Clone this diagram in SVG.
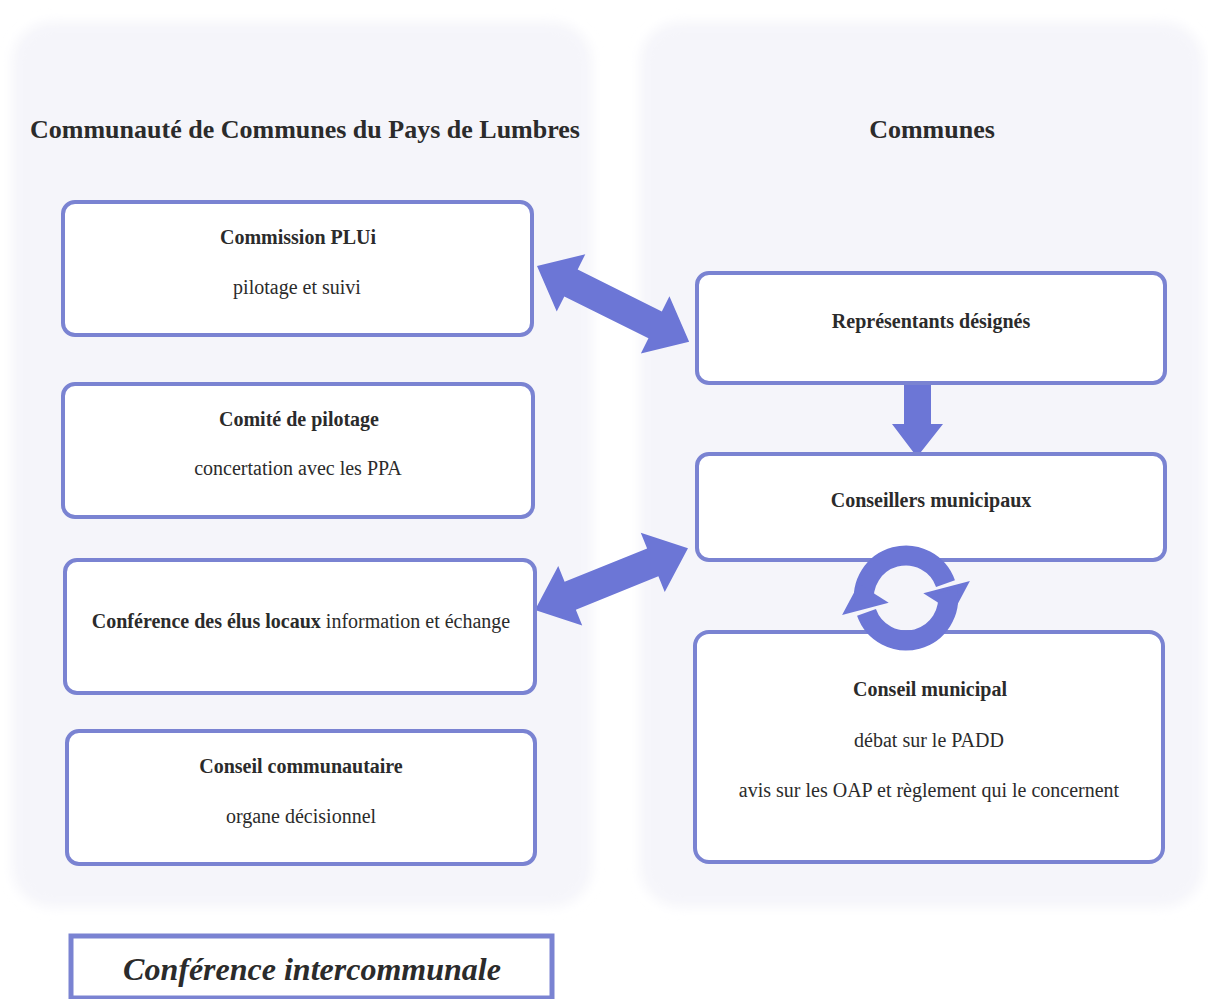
<svg xmlns="http://www.w3.org/2000/svg" width="1208" height="999" viewBox="0 0 1208 999">
<defs>
<style>
.panel{fill:#f5f5fa;stroke:none}
.box{fill:#ffffff;stroke:#7a83d2;stroke-width:4}
text{font-family:'Liberation Serif','Times New Roman','DejaVu Serif',serif;fill:#2b2b2b;text-anchor:middle}
.h{font-size:26px;font-weight:bold}
.b{font-size:20px;font-weight:bold}
.n{font-size:20px}
.arr{fill:#6c76d6}
.cyc{fill:none;stroke:#6c76d6;stroke-width:20}
</style>
<filter id="soft" x="-5%" y="-5%" width="110%" height="110%"><feGaussianBlur stdDeviation="6"/></filter>
</defs>
<rect width="1208" height="999" fill="#ffffff"/>
<g id="panels" filter="url(#soft)">
<rect class="panel" x="12" y="22" width="580" height="885" rx="40"/>
<rect class="panel" x="640" y="22" width="563" height="885" rx="40"/>
</g>
<text class="h" x="305" y="138">Communauté de Communes du Pays de Lumbres</text>
<text class="h" x="932" y="138">Communes</text>
<g id="connectors">
<polygon class="arr" transform="translate(537,266) rotate(26.5)" points="0,0 38,-32 38,-15 132,-15 132,-32 170,0 132,32 132,15 38,15 38,32"/>
<polygon class="arr" transform="translate(535,610) rotate(-22)" points="0,0 38,-32 38,-15 127,-15 127,-32 165,0 127,32 127,15 38,15 38,32"/>
<polygon class="arr" points="904,370 931,370 931,424 943,424 917,457 892,424 904,424"/>
</g>
<g id="conseillers">
<rect class="box" x="697" y="454" width="468" height="106" rx="12"/>
<text class="b" x="931" y="507">Conseillers municipaux</text>
</g>
<g id="conseil-municipal">
<rect class="box" x="695" y="632" width="468" height="230" rx="14"/>
<text class="b" x="930" y="696">Conseil municipal</text>
<text class="n" x="929" y="747">débat sur le PADD</text>
<text class="n" x="929" y="797">avis sur les OAP et règlement qui le concernent</text>
</g>
<g id="cycle">
<path class="cyc" d="M864.6,605.3 A42,42 0 0 1 945.5,583.6"/>
<polygon class="arr" points="969.9,580.9 923.3,593.3 953.3,612.3"/>
<path class="cyc" d="M947.4,590.7 A42,42 0 0 1 866.5,612.4"/>
<polygon class="arr" points="842.1,615.1 888.7,602.7 858.7,583.7"/>
</g>
<g id="commission">
<rect class="box" x="63" y="202" width="469" height="133" rx="12"/>
<text class="b" x="298" y="244">Commission PLUi</text>
<text class="n" x="297" y="294">pilotage et suivi</text>
</g>
<g id="comite">
<rect class="box" x="63" y="384" width="470" height="133" rx="12"/>
<text class="b" x="299" y="426">Comité de pilotage</text>
<text class="n" x="298" y="475">concertation avec les PPA</text>
</g>
<g id="conference-elus">
<rect class="box" x="65" y="560" width="470" height="133" rx="12"/>
<text class="n" x="301" y="628"><tspan font-weight="bold">Conférence des élus locaux</tspan> information et échange</text>
</g>
<g id="conseil-communautaire">
<rect class="box" x="67" y="731" width="468" height="133" rx="12"/>
<text class="b" x="301" y="773">Conseil communautaire</text>
<text class="n" x="301" y="823">organe décisionnel</text>
</g>
<g id="representants">
<rect class="box" x="697" y="273" width="468" height="110" rx="12"/>
<text class="b" x="931" y="328">Représentants désignés</text>
</g>
<g id="conference-intercommunale">
<rect x="71" y="936" width="481" height="62" fill="#ffffff" stroke="#7a83d2" stroke-width="5"/>
<text x="312" y="980" font-size="32" font-weight="bold" font-style="italic">Conférence intercommunale</text>
</g>
</svg>
